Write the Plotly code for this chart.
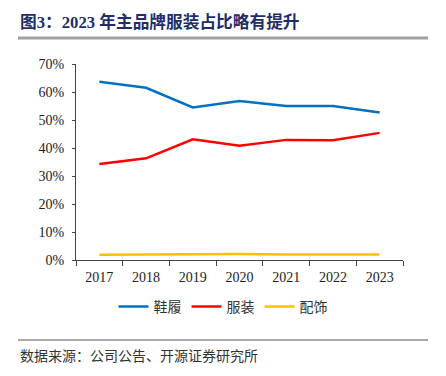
import plotly.graph_objects as go

years = ["2017", "2018", "2019", "2020", "2021", "2022", "2023"]
shoes = [63.7, 61.5, 54.5, 56.8, 55.0, 55.0, 52.7]
apparel = [34.3, 36.3, 43.1, 40.8, 42.9, 42.8, 45.4]
accessories = [1.9, 2.0, 2.1, 2.1, 2.0, 2.1, 2.0]
series_names = ["鞋履", "服装", "配饰"]
colors = ["#0070C0", "#FF0000", "#FFC000"]

fig = go.Figure()
for name, vals, c in zip(series_names, [shoes, apparel, accessories], colors):
    fig.add_trace(go.Scatter(x=years, y=vals, name=name, mode="lines",
                             line=dict(color=c, width=2.5)))

L, R, T, B = 76, 43, 64, 116
plot_w = 446 - L - R
plot_h = 376 - T - B
title_line_y = 1 + (T - 38) / plot_h
foot_line_y = -(340 - (376 - B)) / plot_h
left_x = -(L - 18) / plot_w
right_x = 1 + (428 - (446 - R)) / plot_w
legend_y = 1 - (291 / 376)

font_main = "Liberation Serif, Times New Roman, Noto Sans CJK SC, serif"
fig.update_layout(
    width=446, height=376,
    margin=dict(l=L, r=R, t=T, b=B, autoexpand=False),
    paper_bgcolor="white", plot_bgcolor="white",
    font=dict(family=font_main, size=14, color="#222222"),
    showlegend=True,
    legend=dict(orientation="h", xref="container", yref="container",
                x=0.5, xanchor="center", y=legend_y, yanchor="top",
                font=dict(family="Noto Sans CJK SC", size=14, color="#333333"),
                traceorder="normal"),
    xaxis=dict(type="category", range=[-0.5, 6.5], showline=True, linecolor="#444444", linewidth=1,
               ticks="outside", tickson="boundaries", ticklen=5, tickcolor="#444444",
               showgrid=False, tickfont=dict(size=14), ticklabelstandoff=4),
    yaxis=dict(range=[0, 70], dtick=10, ticksuffix="%", showline=True,
               linecolor="#444444", linewidth=1, ticks="outside", ticklen=3,
               tickcolor="#444444", showgrid=False, zeroline=False,
               tickfont=dict(size=14), ticklabelstandoff=5),
    annotations=[
        dict(text="<b>图3：2023 年主品牌服装占比略有提升</b>", xref="paper", yref="paper",
             x=left_x, y=title_line_y, xanchor="left", yanchor="bottom", yshift=4, showarrow=False,
             font=dict(family="Liberation Serif, Noto Sans CJK SC", size=16.7, color="#1F2D6B")),
        dict(text="数据来源：公司公告、开源证券研究所", xref="paper", yref="paper",
             x=left_x, y=foot_line_y, xanchor="left", yanchor="top", yshift=-3, showarrow=False,
             font=dict(family="Noto Sans CJK SC", size=14, color="#333333")),
    ],
    shapes=[
        dict(type="line", xref="paper", yref="paper", x0=left_x, x1=right_x,
             y0=title_line_y, y1=title_line_y, line=dict(color="#A0A0A0", width=3)),
        dict(type="line", xref="paper", yref="paper", x0=left_x, x1=right_x,
             y0=foot_line_y, y1=foot_line_y, line=dict(color="#555555", width=1)),
    ],
)
fig.write_html("out.html", config={"displayModeBar": False},
               post_script="document.body.style.margin='0';")
